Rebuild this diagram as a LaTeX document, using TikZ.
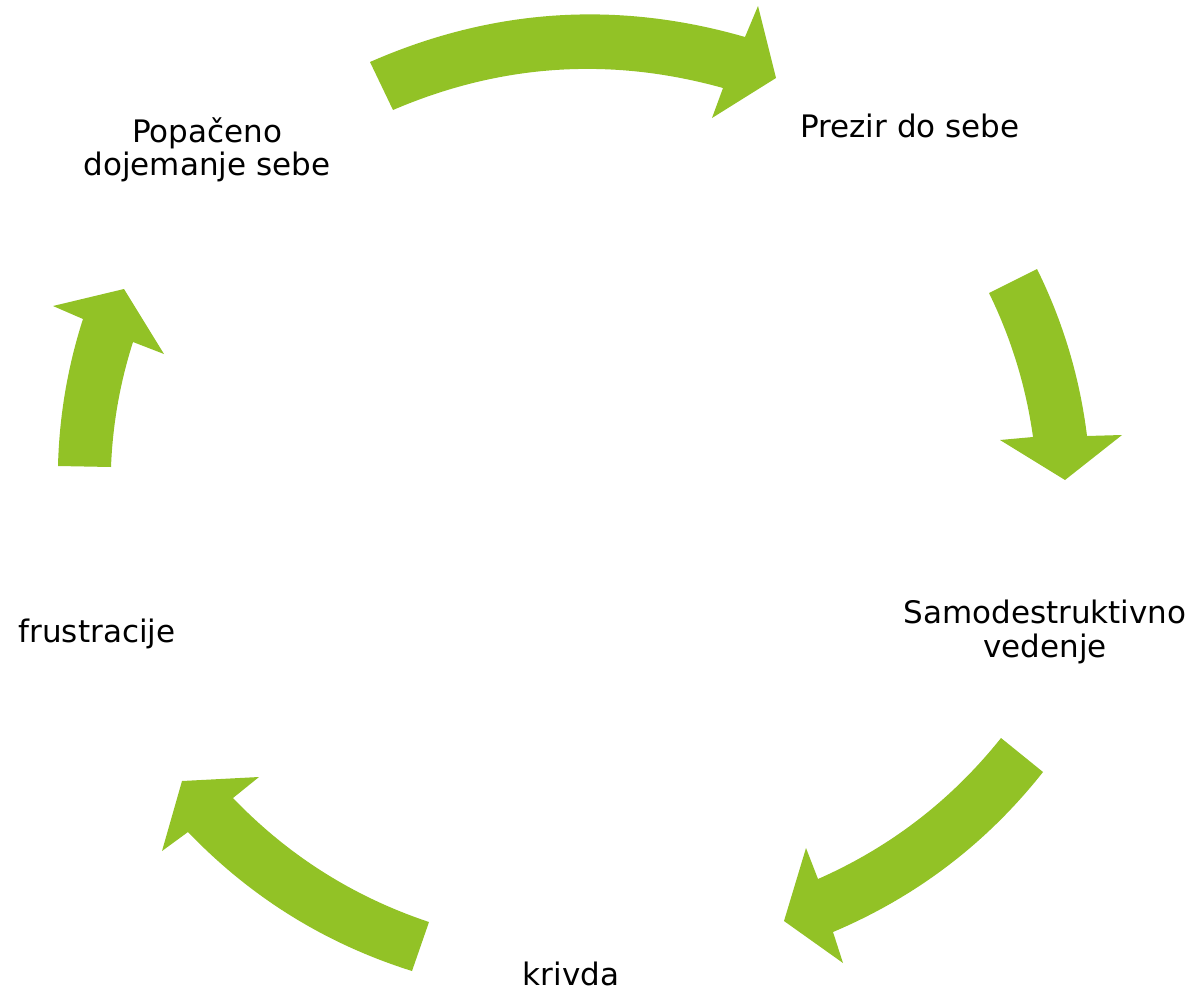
\documentclass[tikz,border=0pt]{standalone}
\usepackage{fontspec}
\setmainfont{DejaVu Sans}
\usetikzlibrary{calc}
\definecolor{cyclegreen}{RGB}{146,194,38}
\begin{document}
\begin{tikzpicture}[x=1pt,y=-1pt,
  cyclearrow/.style={fill=cyclegreen, draw=none},
  lbl/.style={font=\fontsize{31}{34}\selectfont, inner sep=0pt, anchor=base}]
\useasboundingbox (0,0) rectangle (1191,993);

% top arrow
\fill[cyclearrow] (370,62)
  .. controls ($(370,62)!0.6667!(553,-18.4)$) and ($(745,37)!0.6667!(553,-18.4)$) .. (745,37)
  -- (758,6) -- (776,78) -- (712,118) -- (723,88)
  .. controls ($(723,88)!0.6667!(554.1,40.9)$) and ($(393,110)!0.6667!(554.1,40.9)$) .. (393,110)
  -- cycle;

% right arrow
\fill[cyclearrow] (1037,269)
  .. controls ($(1037,269)!0.6667!(1076.2,348.3)$) and ($(1087,436)!0.6667!(1076.2,348.3)$) .. (1087,436)
  -- (1122,435) -- (1065,480) -- (1000,440) -- (1033,437)
  .. controls ($(1033,437)!0.6667!(1022.5,361.5)$) and ($(989,293)!0.6667!(1022.5,361.5)$) .. (989,293)
  -- cycle;

% bottom-right arrow
\fill[cyclearrow] (1043,772)
  .. controls ($(1043,772)!0.6667!(958.5,878.9)$) and ($(833,932)!0.6667!(958.5,878.9)$) .. (833,932)
  -- (843,963) -- (784,921) -- (806,848) -- (818,879)
  .. controls ($(818,879)!0.6667!(926.8,831)$) and ($(1001,738)!0.6667!(926.8,831)$) .. (1001,738)
  -- cycle;

% bottom-left arrow
\fill[cyclearrow] (412,971)
  .. controls ($(412,971)!0.6667!(282.2,930.2)$) and ($(188,832)!0.6667!(282.2,930.2)$) .. (188,832)
  -- (162,851) -- (182,781) -- (259,777) -- (233,798)
  .. controls ($(233,798)!0.6667!(315.7,884.2)$) and ($(429,922)!0.6667!(315.7,884.2)$) .. (429,922)
  -- cycle;

% left arrow
\fill[cyclearrow] (58,466)
  .. controls ($(58,466)!0.6667!(59.9,390.7)$) and ($(83,319)!0.6667!(59.9,390.7)$) .. (83,319)
  -- (53,306) -- (124,289) -- (164,354) -- (133,342)
  .. controls ($(133,342)!0.6667!(113.5,403)$) and ($(111,467)!0.6667!(113.5,403)$) .. (111,467)
  -- cycle;

% labels
\node[lbl] (prezir) at (910,137) {Prezir do sebe};
\node[lbl] (samoA) at (1045,623) {Samodestruktivno};
\node[lbl] (samoB) at (1045,657) {vedenje};
\node[lbl] (krivda) at (571,985) {krivda};
\node[lbl] (frus) at (97,642) {frustracije};
\node[lbl] (popA) at (207,142) {Popačeno};
\node[lbl] (popB) at (207,175) {dojemanje sebe};
\end{tikzpicture}
\end{document}
